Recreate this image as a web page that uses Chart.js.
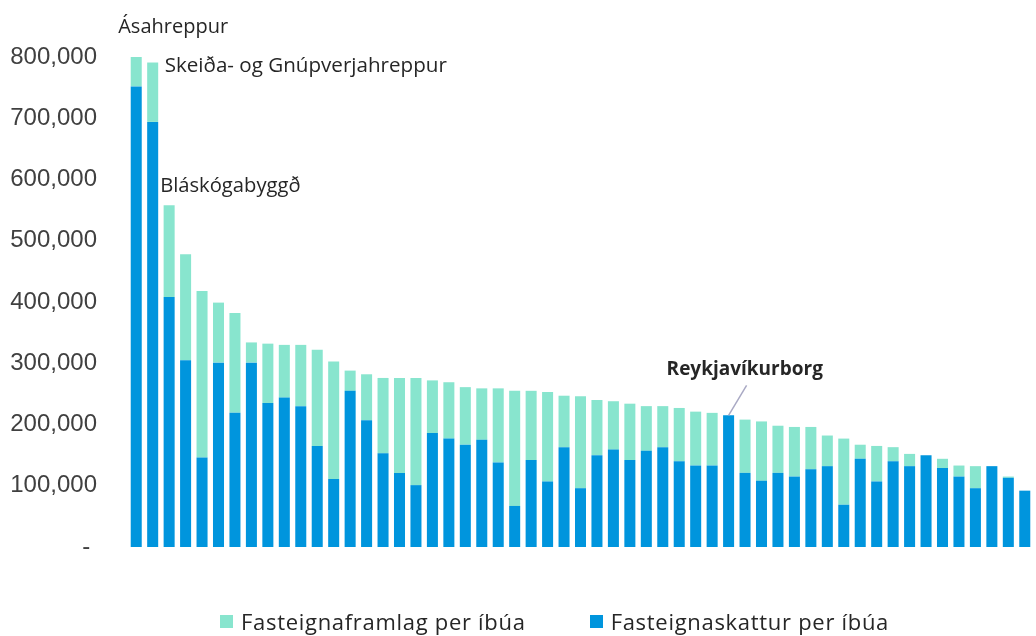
<!DOCTYPE html>
<html lang="is">
<head>
    <meta charset="UTF-8">
    <title>Fasteignaskattur og fasteignaframlag per íbúa</title>
    <script src="https://cdn.jsdelivr.net/npm/chart.js"></script>
    <style>
        body {
            margin: 0;
            padding: 0;
            background-color: #fff;
        }
        .wrap {
            position: relative;
            width: 1036px;
            height: 636px;
        }
        .legend {
            position: absolute;
            left: 0;
            top: 606px;
            width: 1036px;
            display: flex;
            justify-content: center;
            padding-left: 73px;
            box-sizing: border-box;
            font-family: "Open Sans", sans-serif;
            font-size: 22px;
            letter-spacing: 0.7px;
            color: #262626;
        }
        .legend span {
            display: flex;
            align-items: center;
            margin: 0 32px;
        }
        .legend i {
            display: inline-block;
            width: 13px;
            height: 13px;
            margin-right: 8px;
        }
    </style>
</head>
<body>
    <div class="wrap">
        <canvas id="chart" width="1036" height="636"></canvas>
        <div class="legend">
            <span><i style="background:#88E5CE"></i>Fasteignaframlag per íbúa</span>
            <span><i style="background:#0095DD"></i>Fasteignaskattur per íbúa</span>
        </div>
    </div>

    <script>
        // only the named municipalities are known, the rest are left blank
        const labels = [
            'Ásahreppur', 'Skeiða- og Gnúpverjahreppur', 'Bláskógabyggð', '', '', '', '', '', '', '',
            '', '', '', '', '', '', '', '', '', '',
            '', '', '', '', '', '', '', '', '', '',
            '', '', '', '', '', '', 'Reykjavíkurborg', '', '', '',
            '', '', '', '', '', '', '', '', '', '',
            '', '', '', '', ''
        ];

        const fasteignaskattur = [
            752000, 694000, 408000, 305000, 146000, 301000, 219000, 301000, 235000, 244000,
            230000, 165000, 111000, 255000, 207000, 153000, 121000, 101000, 186000, 177000,
            167000, 175000, 138000, 67000, 142000, 107000, 163000, 96000, 150000, 159000,
            142000, 157000, 163000, 140000, 133000, 133000, 215000, 121000, 108000, 121000,
            115000, 127000, 132000, 69000, 144000, 107000, 140000, 132000, 150000, 129000,
            115000, 96000, 132000, 113000, 92000
        ];

        const fasteignaframlag = [
            48000, 97000, 150000, 173000, 272000, 98000, 163000, 33000, 97000, 86000,
            100000, 157000, 192000, 33000, 75000, 123000, 155000, 175000, 86000, 92000,
            94000, 84000, 121000, 188000, 113000, 146000, 84000, 150000, 90000, 79000,
            92000, 73000, 67000, 87000, 88000, 86000, 0, 87000, 97000, 77000,
            81000, 69000, 50000, 108000, 23000, 58000, 23000, 20000, 0, 15000,
            18000, 36000, 0, 2000, 0
        ];

        const yTicks = [0, 100000, 200000, 300000, 400000, 500000, 600000, 700000, 800000];

        // labels placed next to a few bars, like moved data labels in Excel
        const barNotes = {
            id: 'barNotes',
            afterDatasetsDraw(chart) {
                const ctx = chart.ctx;
                const x = chart.scales.x;
                const y = chart.scales.y;
                const notes = [
                    { i: 0, dx: -18, dy: -24, size: 20, bold: false },
                    { i: 1, dx: 12, dy: 9, size: 20.6, bold: false },
                    { i: 2, dx: -9, dy: -13, size: 20.2, bold: false },
                    { i: 36, dx: -62, dy: -40, size: 19, bold: true, line: true }
                ];
                ctx.save();
                notes.forEach(n => {
                    const cx = x.getPixelForValue(n.i);
                    const top = y.getPixelForValue(fasteignaskattur[n.i] + fasteignaframlag[n.i]);
                    if (n.line) {
                        ctx.strokeStyle = '#a9a9c4';
                        ctx.lineWidth = 1.5;
                        ctx.beginPath();
                        ctx.moveTo(cx + 18, top - 30);
                        ctx.lineTo(cx, top);
                        ctx.stroke();
                    }
                    ctx.font = (n.bold ? 'bold ' : '') + n.size + 'px "Open Sans", sans-serif';
                    ctx.fillStyle = '#262626';
                    ctx.textAlign = 'left';
                    ctx.textBaseline = 'alphabetic';
                    ctx.fillText(labels[n.i], cx + n.dx, top + n.dy);
                });
                ctx.restore();
            }
        };

        new Chart(document.getElementById('chart').getContext('2d'), {
            type: 'bar',
            data: {
                labels: labels,
                datasets: [
                    {
                        label: 'Fasteignaskattur per íbúa',
                        data: fasteignaskattur,
                        backgroundColor: '#0095DD'
                    },
                    {
                        label: 'Fasteignaframlag per íbúa',
                        data: fasteignaframlag,
                        backgroundColor: '#88E5CE'
                    }
                ]
            },
            options: {
                responsive: false,
                animation: false,
                layout: {
                    padding: { left: 10, right: 3, top: 57, bottom: 89 }
                },
                datasets: {
                    bar: {
                        barPercentage: 0.67,
                        categoryPercentage: 1
                    }
                },
                plugins: {
                    legend: { display: false },
                    tooltip: { enabled: false }
                },
                scales: {
                    x: {
                        stacked: true,
                        display: false
                    },
                    y: {
                        stacked: true,
                        min: 0,
                        max: 800000,
                        afterFit(scale) {
                            scale.width = 118;
                        },
                        afterBuildTicks(scale) {
                            scale.ticks = yTicks.map(v => ({ value: v }));
                        },
                        grid: { display: false, drawTicks: false },
                        border: { display: false },
                        ticks: {
                            padding: 31,
                            color: '#404040',
                            font: { family: '"Liberation Sans", Arial, sans-serif', size: 24 },
                            callback: v => v === 0 ? '- ' : v.toLocaleString('en-US')
                        }
                    }
                }
            },
            plugins: [barNotes]
        });
    </script>
</body>
</html>
